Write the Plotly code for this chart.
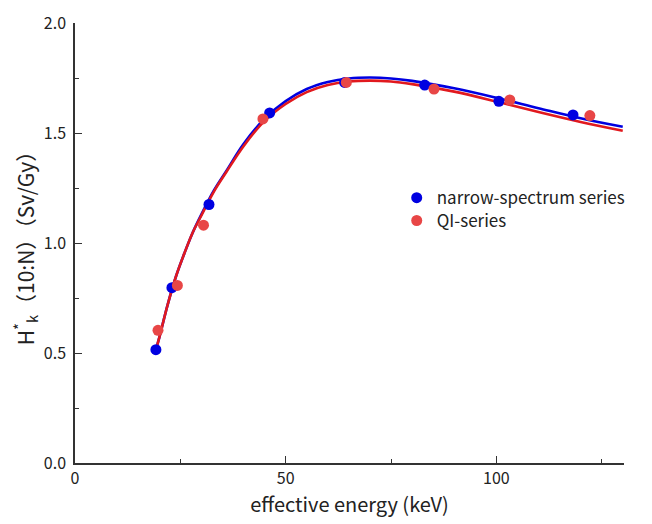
import plotly.graph_objects as go

# Measured points
narrow_x = [19.2, 23.0, 31.8, 46.2, 64.0, 83.0, 100.6, 118.2]
narrow_y = [0.515, 0.797, 1.175, 1.591, 1.730, 1.718, 1.644, 1.582]
qi_x = [19.7, 24.3, 30.5, 44.6, 64.4, 85.2, 103.2, 122.2]
qi_y = [0.603, 0.807, 1.081, 1.564, 1.730, 1.700, 1.650, 1.579]

# Fitted curves
fit_x = [19, 20, 22, 24, 26, 28, 30, 33, 36, 40, 45, 50, 55, 60, 65, 70, 75, 80, 90, 100, 110, 120, 130]
narrow_fit_y = [0.50, 0.57, 0.72, 0.85, 0.955, 1.05, 1.13, 1.24, 1.33, 1.45, 1.565, 1.645, 1.70, 1.732, 1.748, 1.752, 1.748, 1.737, 1.703, 1.660, 1.613, 1.567, 1.528]
qi_fit_y = [0.50, 0.57, 0.72, 0.85, 0.955, 1.05, 1.125, 1.235, 1.325, 1.44, 1.555, 1.632, 1.686, 1.718, 1.734, 1.738, 1.734, 1.722, 1.688, 1.643, 1.595, 1.550, 1.510]

x_tickvals = [0, 50, 100]
y_tickvals = [0.0, 0.5, 1.0, 1.5, 2.0]
y_ticktext = ["0.0", "0.5", "1.0", "1.5", "2.0"]

BLUE = "rgb(0,0,225)"
RED_LINE = "rgb(225,25,30)"
RED_MARK = "rgb(232,70,70)"
FONT = "Noto Sans CJK JP"
TXT = "#222"

fig = go.Figure()
fig.add_trace(go.Scatter(x=fit_x, y=narrow_fit_y, mode="lines", line=dict(color=BLUE, width=2.6, shape="spline"), showlegend=False, hoverinfo="skip"))
fig.add_trace(go.Scatter(x=fit_x, y=qi_fit_y, mode="lines", line=dict(color=RED_LINE, width=2.6, shape="spline"), showlegend=False, hoverinfo="skip"))
fig.add_trace(go.Scatter(x=narrow_x, y=narrow_y, mode="markers", name="narrow-spectrum series", marker=dict(color=BLUE, size=11), legend="legend"))
fig.add_trace(go.Scatter(x=qi_x, y=qi_y, mode="markers", name="QI-series", marker=dict(color=RED_MARK, size=11), legend="legend2"))

axis_common = dict(showgrid=False, zeroline=False, showline=True, linecolor="#333", linewidth=1.5,
                   ticks="inside", tickcolor="#333", tickwidth=1.3, ticklen=7, automargin=False,
                   tickfont=dict(family=FONT, size=16, color=TXT))

legend_common = dict(xanchor="left", yanchor="top", bgcolor="rgba(0,0,0,0)", borderwidth=0,
                     font=dict(family=FONT, size=17, color=TXT), itemwidth=30)

# The page body adds an 8px offset, so the figure is sized to fit the window.
fig.update_layout(
    width=644, height=516,
    margin=dict(l=67, r=28, t=15, b=61),
    paper_bgcolor="white", plot_bgcolor="white",
    font=dict(family=FONT, color=TXT),
    xaxis=dict(range=[0, 130.3], tickvals=x_tickvals,
               minor=dict(tickvals=[25, 75, 125], ticks="inside", ticklen=4, tickcolor="#333", tickwidth=1.3),
               title=dict(text="effective energy (keV)", font=dict(family=FONT, size=20, color=TXT), standoff=8),
               **axis_common),
    yaxis=dict(range=[0, 2.0], tickvals=y_tickvals, ticktext=y_ticktext, ticklabelstandoff=4,
               minor=dict(tickvals=[0.25, 0.75, 1.25, 1.75], ticks="inside", ticklen=4, tickcolor="#333", tickwidth=1.3),
               title=dict(text="H<sup>*</sup><sub>k</sub>（10:N）（Sv/Gy）", font=dict(family=FONT, size=21, color=TXT), standoff=6),
               **axis_common),
    legend=dict(x=0.586, y=0.643, **legend_common),
    legend2=dict(x=0.586, y=0.591, **legend_common),
)

fig.write_html("out.html")
